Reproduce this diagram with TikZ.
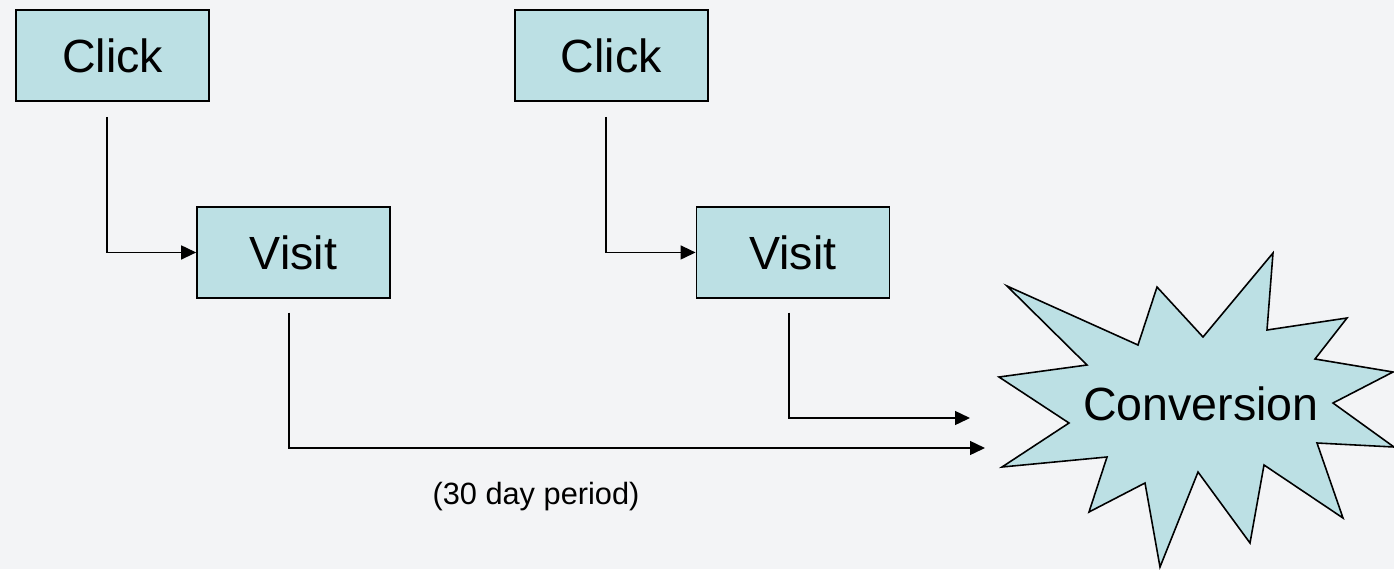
\documentclass[tikz,border=0pt]{standalone}
\usepackage{fontspec}
\setmainfont{Liberation Sans}
\usepackage{tikz}
\usepackage{xcolor}
\usetikzlibrary{arrows.meta}
\usetikzlibrary{positioning}
\definecolor{boxfill}{RGB}{188,224,228}
\definecolor{pagebg}{RGB}{243,244,246}
\tikzstyle{event} = [rectangle, minimum width=3.86cm, minimum height=1.82cm, inner sep=0pt, text centered, draw=black, line width=0.9pt, fill=boxfill, font=\fontsize{26.5}{30}\selectfont]
\tikzstyle{burst} = [draw=black, line width=0.9pt, fill=boxfill, line join=miter]
\tikzstyle{arrow} = [line width=0.8pt, ->, >={Triangle[length=0.3cm, width=0.28cm]}]

\begin{document}
\begin{tikzpicture}[x=0.02cm, y=-0.02cm, node distance=2cm]
        \fill[pagebg] (0,0) rectangle (1394,569);
        \useasboundingbox (0,0) rectangle (1394,569);

        \node (click1) [event] at (112.5,55.5) {Click};
        \node (visit1) [event, below of=click1, xshift=3.62cm, yshift=-1.94cm] {Visit};
        \node (click2) [event, right of=click1, xshift=7.98cm] {Click};
        \node (visit2) [event, below of=click2, xshift=3.63cm, yshift=-1.94cm] {Visit};

        % the conversion burst
        \draw [burst] (1273,253) -- (1267,330) -- (1347,318) -- (1315,359) -- (1393,372) -- (1333,403)
            -- (1394,447) -- (1317,443) -- (1343,518) -- (1264,465) -- (1250,543) -- (1198,472)
            -- (1160,567) -- (1145,483) -- (1089,512) -- (1107,457) -- (1002,467) -- (1069,423)
            -- (999,377) -- (1087,365) -- (1007,286) -- (1138,345) -- (1157,287) -- (1203,337) -- cycle;
        \node (conv) [font=\fontsize{26.5}{30}\selectfont, inner sep=0pt] at (1201,404) {Conversion};

        \coordinate (tipA) at (985,448);
        \coordinate (tipB) at (970,418);
        \node (period) [font=\fontsize{17.5}{20}\selectfont, inner sep=0pt] at (536,497) {(30 day period)};

        \draw [arrow] ([xshift=-0.11cm, yshift=-0.3cm]click1.south) |- (visit1.west);
        \draw [arrow] ([xshift=-0.11cm, yshift=-0.3cm]click2.south) |- (visit2.west);
        \draw [arrow] ([xshift=-0.09cm, yshift=-0.28cm]visit1.south) |- (tipA);
        \draw [arrow] ([xshift=-0.08cm, yshift=-0.28cm]visit2.south) |- (tipB);
    \end{tikzpicture}
\end{document}
